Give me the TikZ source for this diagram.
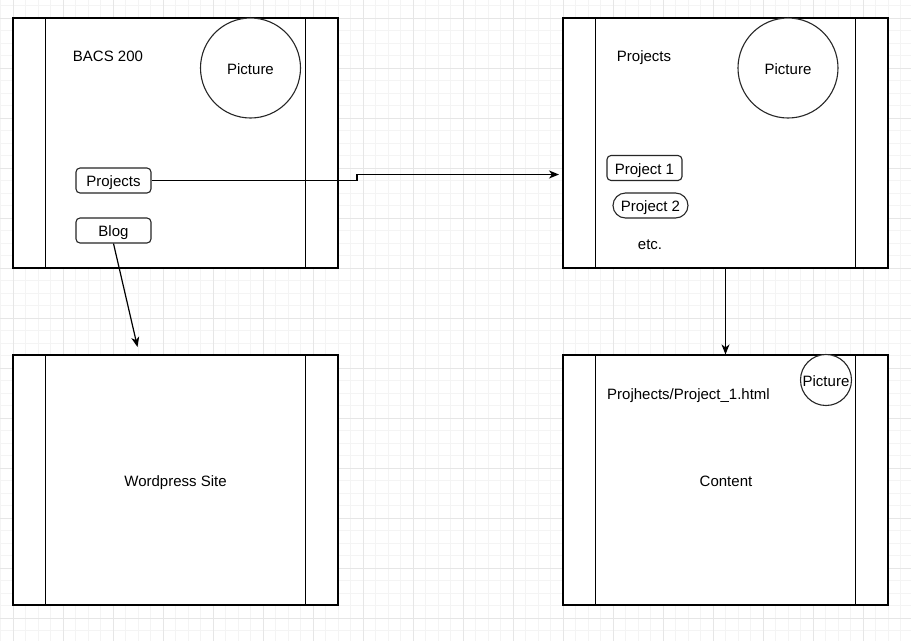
\documentclass[tikz,border=0pt]{standalone}
\usepackage{fontspec}
\setmainfont{Liberation Sans}
\usetikzlibrary{arrows.meta}
\definecolor{minorgridc}{HTML}{F4F4F4}
\definecolor{majorgridc}{HTML}{E6E6E6}
\begin{document}
\begin{tikzpicture}[x=1pt,y=-1pt,
  font=\fontsize{15}{18}\selectfont,
  minorgrid/.style={draw=minorgridc,line width=1pt},
  majorgrid/.style={draw=majorgridc,line width=1pt},
  page/.style={draw=black,line width=1.2pt,fill=white,minimum width=325pt,minimum height=250pt,inner sep=0pt},
  bar/.style={draw=black,line width=1.2pt},
  button/.style={draw=black!85,line width=1.1pt,fill=white,rounded corners=4pt,minimum width=75pt,minimum height=25pt,inner sep=0pt,text height=13.5pt,text depth=1pt},
  pill/.style={button,rounded corners=12.5pt},
  pic/.style={circle,draw=black!85,line width=1.1pt,fill=white,inner sep=0pt,text height=13.5pt,text depth=1pt},
  label/.style={inner sep=0pt,text height=13.5pt,text depth=1pt},
  link/.style={draw=black,line width=1.2pt,-{Stealth[length=10pt,width=8pt,inset=3pt]}}
]
\path[use as bounding box] (0,0) rectangle (911,641);
\clip (0,0) rectangle (911,641);
\fill[white] (0,0) rectangle (911,641);
% grid
\foreach \k in {-1,...,72} \draw[minorgrid] ({13+12.5*\k},0) -- ({13+12.5*\k},641);
\foreach \k in {-1,...,50} \draw[minorgrid] (0,{18+12.5*\k}) -- (911,{18+12.5*\k});
\foreach \k in {0,...,18} \draw[majorgrid] ({13+50*\k},0) -- ({13+50*\k},641);
\foreach \k in {0,...,12} \draw[majorgrid] (0,{18+50*\k}) -- (911,{18+50*\k});

% pages
\node[page] (box1) at (175.5,143) {};
\node[page] (box2) at (725.5,143) {};
\node[page] (box3) at (175.5,480) {};
\node[page] (box4) at (725.5,480) {};
\foreach \b in {box1,box2,box3,box4}{
  \draw[bar] ([xshift=33pt]\b.north west) -- ([xshift=33pt]\b.south west);
  \draw[bar] ([xshift=-33pt]\b.north east) -- ([xshift=-33pt]\b.south east);
}

% box 1
\node[label] (title1) at (108,55.5) {BACS 200};
\node[pic,minimum size=100pt] (pic1) at (250.5,68) {Picture};
\node[button] (projbtn) at (113.5,180.5) {Projects};
\node[button] (blogbtn) at (113.5,230.5) {Blog};

% box 2
\node[label] (title2) at (644,55.5) {Projects};
\node[pic,minimum size=100pt] (pic2) at (788,68) {Picture};
\node[button] (proj1) at (644.5,168) {Project 1};
\node[pill] (proj2) at (650.5,205.5) {Project 2};
\node[label] (etc) at (650,243.5) {etc.};

% box 3
\node[label] (wp) at (175.5,480.5) {Wordpress Site};

% box 4
\node[label] (path4) at (688.5,393) {Projhects/Project\_1.html};
\node[pic,minimum size=51pt] (pic4) at (826,380) {Picture};
\node[label] (content) at (726,480.5) {Content};

% connectors
\coordinate (projend) at (559,174.5);
\coordinate (blogend) at (137.5,347);
\draw[link] (projbtn.east) -- (357,180.5) -- (357,174.5) -- (projend);
\draw[link] (blogbtn.south) -- (blogend);
\draw[link] (box2.south) -- (box4.north);
\end{tikzpicture}
\end{document}
